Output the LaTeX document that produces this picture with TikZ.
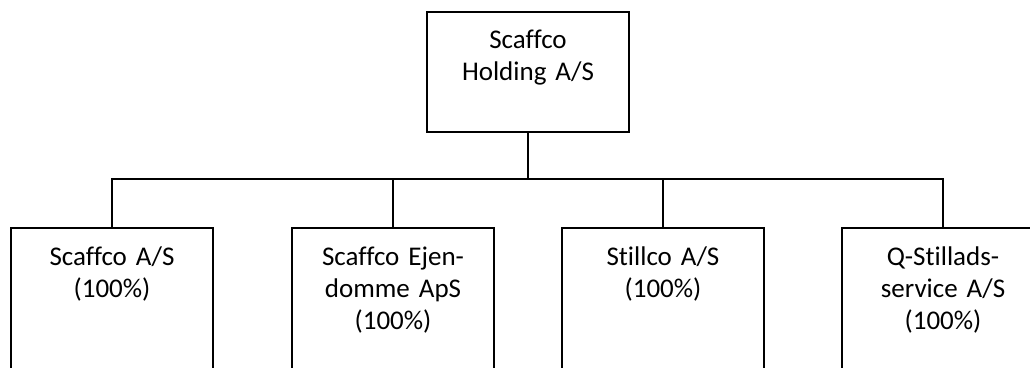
\documentclass[tikz,border=0pt]{standalone}
\usepackage{fontspec}
\setmainfont[Ligatures = NoCommon]{Carlito}
\usetikzlibrary{positioning}

\begin{document}
\begin{tikzpicture}[x = 1pt, y = -1pt]
\tikzstyle{BoxStyle}=[shape = rectangle,
                      draw,
                      line width = 1.5pt,
                      minimum width = 202pt,
                      inner sep = 0pt]
\tikzstyle{TextStyle}=[align = center,
                       text width = 195pt,
                       inner sep = 0pt,
                       font = \fontsize{27}{32}\selectfont]
\tikzstyle{EdgeStyle}=[line width = 1.5pt]
\useasboundingbox (0,0) rectangle (1030,367);
\clip (0,0) rectangle (1030,367);
% parent
\node[BoxStyle, minimum height = 120pt] (holding) at (528,72) {};
\node[TextStyle, below = 19pt of holding.north] (holdingtxt) {Scaffco\\Holding A/S};
% subsidiaries
\node[BoxStyle, minimum height = 160pt] (sub1) at (112,308) {};
\node[BoxStyle, minimum height = 160pt] (sub2) at (393,308) {};
\node[BoxStyle, minimum height = 160pt] (sub3) at (663,308) {};
\node[BoxStyle, minimum height = 160pt] (sub4) at (943,308) {};
\node[TextStyle, below = 19pt of sub1.north] (sub1txt) {Scaffco A/S\\(100\%)};
\node[TextStyle, below = 19pt of sub2.north] (sub2txt) {Scaffco Ejen-\\domme ApS\\(100\%)};
\node[TextStyle, below = 19pt of sub3.north] (sub3txt) {Stillco A/S\\(100\%)};
\node[TextStyle, below = 19pt of sub4.north] (sub4txt) {Q-Stillads-\\service A/S\\(100\%)};
% connectors
\coordinate (split) at (528,179);
\draw[EdgeStyle] (holding.south) -- (split);
\foreach \n in {1,...,4}
  \draw[EdgeStyle] (split) -| (sub\n.north);
\end{tikzpicture}
\end{document}
